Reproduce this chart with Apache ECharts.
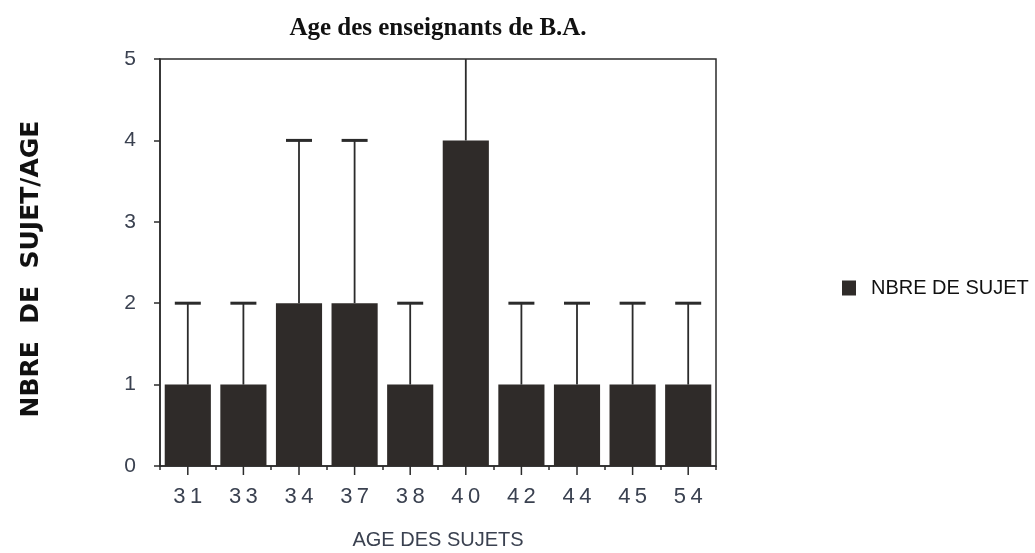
<!DOCTYPE html>
<html>
<head>
<meta charset="utf-8">
<script src="https://cdn.jsdelivr.net/npm/echarts@6/dist/echarts.min.js"></script>
<style>
  html, body { margin: 0; padding: 0; background: #fff; }
  #chart { width: 1035px; height: 553px; }
</style>
</head>
<body>
<div id="chart"></div>
<script>
// data
const ages = ['31', '33', '34', '37', '38', '40', '42', '44', '45', '54'];
const nbreSujets = [1, 1, 2, 2, 1, 4, 1, 1, 1, 1];
// upper ends of the error bars (40 runs past the top of the plot)
const errUpper = [2, 2, 4, 4, 2, 8, 2, 2, 2, 2];
const yTicks = [0, 1, 2, 3, 4, 5];

const INK = '#2b2b2b';
const BAR = '#2f2b29';
const LABEL = '#3a4150';

const chart = echarts.init(document.getElementById('chart'));

chart.setOption({
  animation: false,
  title: {
    text: 'Age des enseignants de B.A.',
    left: 433,
    textAlign: 'center',
    top: 11,
    textStyle: {
      fontFamily: 'Liberation Serif',
      fontSize: 25,
      fontWeight: 'bold',
      color: '#111'
    }
  },
  legend: {
    left: 837,
    top: 273,
    itemWidth: 14,
    itemHeight: 15,
    itemGap: 6,
    icon: 'rect',
    data: ['NBRE DE SUJET'],
    textStyle: {
      fontFamily: 'Liberation Sans',
      fontSize: 20,
      color: '#111',
      padding: [0, 0, 0, 10]
    }
  },
  grid: {
    left: 160,
    right: 1035 - 716,
    top: 59,
    bottom: 553 - 466,
    outerBoundsMode: 'none',
    show: true,
    borderColor: INK,
    borderWidth: 1.5
  },
  xAxis: {
    type: 'category',
    data: ages,
    name: 'AGE DES SUJETS',
    nameLocation: 'middle',
    nameGap: 64,
    nameTextStyle: {
      fontFamily: 'Liberation Sans',
      fontSize: 20,
      color: LABEL
    },
    axisLine: { lineStyle: { color: INK, width: 1.5 } },
    axisTick: { show: true, alignWithLabel: false, length: 4, lineStyle: { color: INK, width: 1.5 } },
    axisLabel: {
      margin: 20,
      fontFamily: 'Liberation Sans',
      fontSize: 22,
      color: LABEL,
      formatter: v => v.split('').join('\u2009')
    }
  },
  yAxis: {
    type: 'value',
    min: 0,
    max: 5,
    interval: 1,
    name: 'NBRE  DE  SUJET/AGE',
    nameLocation: 'middle',
    nameGap: 116,
    nameRotate: 90,
    nameTextStyle: {
      fontFamily: 'DejaVu Sans',
      fontSize: 25,
      fontWeight: 'bold',
      color: '#111',
      padding: [0, 13, 0, 0]
    },
    axisLine: { show: true, lineStyle: { color: INK, width: 1.5 } },
    axisTick: { show: true, length: 6, lineStyle: { color: INK, width: 1.5 } },
    splitLine: { show: false },
    axisLabel: {
      margin: 24,
      fontFamily: 'Liberation Sans',
      fontSize: 21,
      color: LABEL,
      formatter: v => (yTicks.includes(v) ? String(v) : '')
    }
  },
  series: [
    {
      name: 'NBRE DE SUJET',
      type: 'bar',
      data: nbreSujets,
      barCategoryGap: '17%',
      itemStyle: { color: BAR },
      z: 2
    },
    {
      // center ticks below the axis, like the original
      type: 'custom',
      silent: true,
      clip: false,
      data: ages.map((a, i) => [i, 0]),
      renderItem: (params, api) => {
        const p = api.coord([api.value(0), 0]);
        return {
          type: 'line',
          shape: { x1: p[0], y1: p[1], x2: p[0], y2: p[1] + 9 },
          style: { stroke: INK, lineWidth: 1.5 }
        };
      },
      z: 3
    },
    {
      type: 'custom',
      silent: true,
      clip: true,
      data: nbreSujets.map((v, i) => [i, v, errUpper[i]]),
      renderItem: (params, api) => {
        const base = api.coord([api.value(0), api.value(1)]);
        const top = api.coord([api.value(0), api.value(2)]);
        const half = 13;
        return {
          type: 'group',
          children: [
            {
              type: 'line',
              shape: { x1: base[0], y1: base[1], x2: top[0], y2: top[1] },
              style: { stroke: INK, lineWidth: 1.8 }
            },
            {
              type: 'line',
              shape: { x1: top[0] - half, y1: top[1], x2: top[0] + half, y2: top[1] },
              style: { stroke: INK, lineWidth: 3 }
            }
          ]
        };
      },
      z: 4
    }
  ]
});
</script>
</body>
</html>
